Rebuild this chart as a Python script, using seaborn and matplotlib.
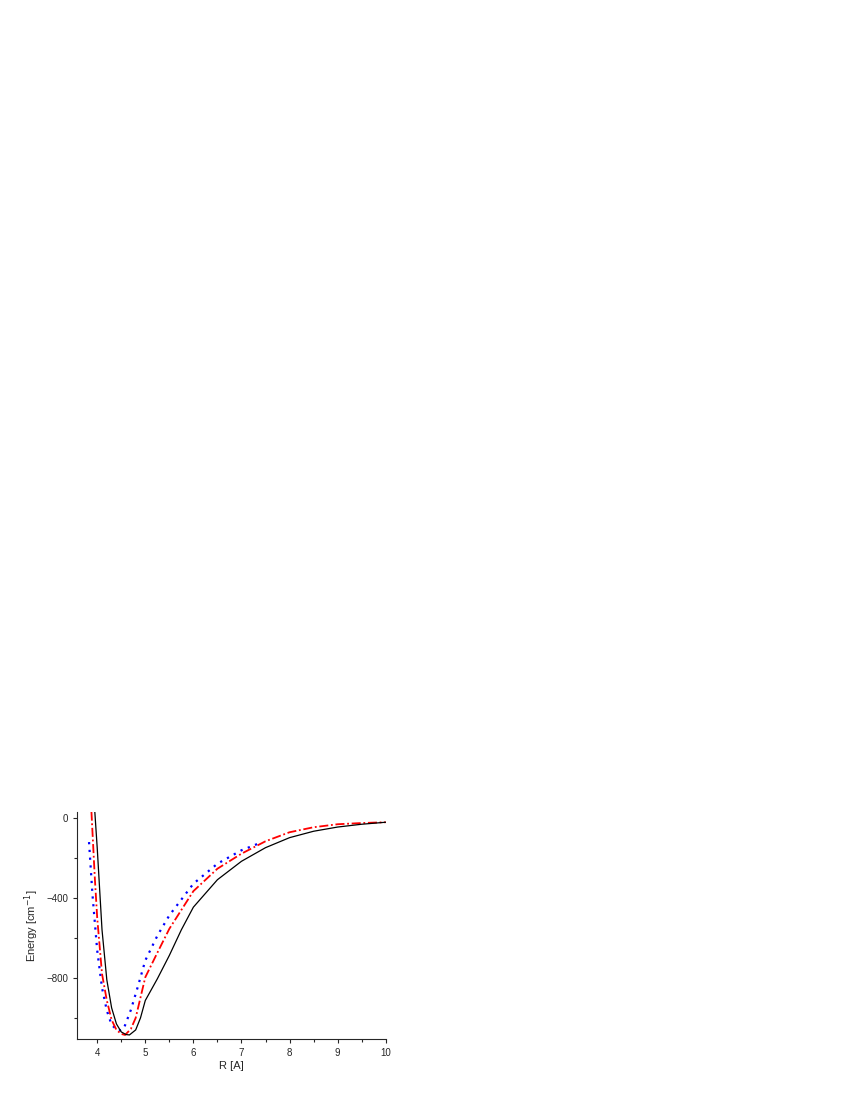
import matplotlib
matplotlib.use('Agg')
import matplotlib.pyplot as plt
import seaborn as sns
from matplotlib.ticker import MultipleLocator

sns.set_style('ticks')
plt.rcParams['font.family'] = ['Liberation Sans', 'DejaVu Sans']

# black solid curve
r_black = [3.95, 4.0, 4.1, 4.2, 4.3, 4.4, 4.5, 4.6, 4.67, 4.8, 4.9, 5.0, 5.25, 5.5,
           5.75, 6.0, 6.5, 7.0, 7.5, 8.0, 8.5, 9.0, 9.5, 10.0]
e_black = [30, -150, -560, -810, -950, -1030, -1070, -1083, -1085, -1060, -1000, -913,
           -805, -688, -560, -447, -310, -218, -150, -100, -68, -47, -33, -23]
# red dash-dot curve
r_red = [3.88, 3.95, 4.0, 4.1, 4.2, 4.3, 4.4, 4.5, 4.58, 4.7, 4.8, 5.0, 5.25, 5.5,
         6.0, 6.5, 7.0, 7.5, 8.0, 8.5, 9.0, 9.5, 10.0]
e_red = [30, -300, -500, -780, -913, -1010, -1060, -1080, -1085, -1055, -1000, -797,
         -675, -555, -367, -255, -180, -118, -73, -48, -33, -27, -23]
# blue dotted curve
r_blue = [3.83, 3.9, 4.0, 4.1, 4.2, 4.3, 4.44, 4.55, 4.7, 4.85, 5.0, 5.25, 5.5,
          6.0, 6.5, 7.0, 7.4]
e_blue = [-122, -380, -663, -850, -963, -1035, -1065, -1055, -960, -840, -713, -590,
          -488, -330, -230, -163, -125]

fig = plt.figure(figsize=(8.5, 11), dpi=100)
ax = fig.add_axes([0.0906, 0.0555, 0.3632, 0.2063])

sns.lineplot(x=r_blue, y=e_blue, ax=ax, color='blue', lw=1.6, linestyle=(0, (1, 2.5)))
sns.lineplot(x=r_red, y=e_red, ax=ax, color='red', lw=1.3, linestyle=(0, (5, 1.5, 1, 1.5)))
sns.lineplot(x=r_black, y=e_black, ax=ax, color='black', lw=0.9)

ax.set_xlim(3.58, 10)
ax.set_ylim(-1105, 28)
ax.xaxis.set_major_locator(MultipleLocator(1))
ax.xaxis.set_minor_locator(MultipleLocator(0.5))
ax.yaxis.set_major_locator(MultipleLocator(400))
ax.yaxis.set_minor_locator(MultipleLocator(200))
ax.tick_params(labelsize=7, length=3, width=0.8)
ax.tick_params(which='minor', length=2, width=0.8)
sns.despine(ax=ax)
ax.set_xlabel('R [A]', fontsize=8, labelpad=2)
ax.set_ylabel('Energy [cm$^{-1}$]', fontsize=8, labelpad=4)

fig.savefig('out.png', dpi=100)
